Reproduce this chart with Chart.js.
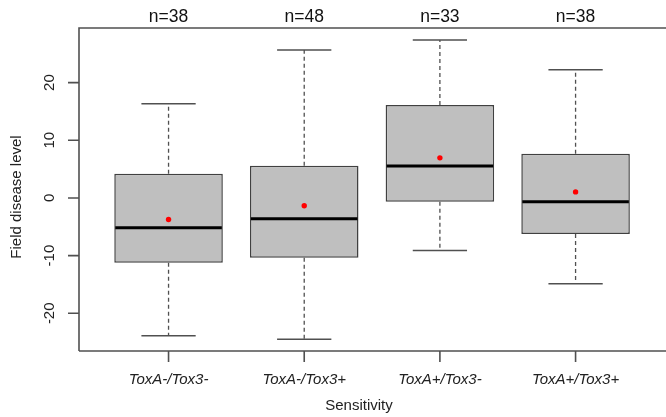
<!DOCTYPE html>
<html>
<head>
<meta charset="utf-8">
<script src="https://cdn.jsdelivr.net/npm/chart.js@4"></script>
<style>
html,body{margin:0;padding:0;background:#fff;}
#wrap{width:666px;height:417px;position:relative;}
</style>
</head>
<body>
<div id="wrap"><canvas id="c"></canvas></div>
<script>
// ---- data ----
const categories = ["ToxA-/Tox3-", "ToxA-/Tox3+", "ToxA+/Tox3-", "ToxA+/Tox3+"];
const sampleSizes = [38, 48, 33, 38];
const whiskerLow = [-23.9, -24.5, -9.1, -14.9];
const q1 = [-11.25, -10.35, -0.65, -6.25];
const medians = [-5.15, -3.6, 5.55, -0.65];
const q3 = [4.2, 5.6, 16.1, 7.65];
const whiskerHigh = [16.35, 25.65, 27.4, 22.25];
const means = [-3.75, -1.35, 6.95, 1.05];
const yTicks = [-20, -10, 0, 10, 20];

const positions = categories.map((c, i) => i + 1);
const boxData = positions.map((x, i) => ({x: x, y: [q1[i], q3[i]]}));
const meanData = positions.map((x, i) => ({x: x, y: means[i]}));

const AXIS = '#505050';
const TEXT = '#222222';

const boxPlugin = {
  id: 'boxExtras',
  afterDatasetDraw(chart, args) {
    if (args.index !== 0) return;
    const ctx = chart.ctx, xs = chart.scales.x, ys = chart.scales.y;
    const unit = xs.getPixelForValue(1) - xs.getPixelForValue(0);
    ctx.save();
    positions.forEach((p, i) => {
      const cx = xs.getPixelForValue(p);
      // dashed whiskers
      ctx.strokeStyle = AXIS;
      ctx.lineWidth = 1.3;
      ctx.setLineDash([4, 3]);
      ctx.beginPath();
      ctx.moveTo(cx, ys.getPixelForValue(q3[i]));
      ctx.lineTo(cx, ys.getPixelForValue(whiskerHigh[i]));
      ctx.moveTo(cx, ys.getPixelForValue(q1[i]));
      ctx.lineTo(cx, ys.getPixelForValue(whiskerLow[i]));
      ctx.stroke();
      // caps
      ctx.setLineDash([]);
      ctx.lineWidth = 1.5;
      const hw = unit * 0.2;
      ctx.beginPath();
      [whiskerHigh[i], whiskerLow[i]].forEach(v => {
        const y = ys.getPixelForValue(v);
        ctx.moveTo(cx - hw, y);
        ctx.lineTo(cx + hw, y);
      });
      ctx.stroke();
      // median
      const bw = unit * 0.4;
      ctx.strokeStyle = '#000000';
      ctx.lineWidth = 3;
      ctx.beginPath();
      const my = ys.getPixelForValue(medians[i]);
      ctx.moveTo(cx - bw + 1, my);
      ctx.lineTo(cx + bw - 1, my);
      ctx.stroke();
    });
    ctx.restore();
  },
  afterDraw(chart) {
    const ctx = chart.ctx, xs = chart.scales.x, ys = chart.scales.y;
    const a = chart.chartArea;
    ctx.save();
    // frame
    ctx.strokeStyle = AXIS;
    ctx.lineWidth = 1.6;
    ctx.beginPath();
    ctx.moveTo(a.left, a.bottom);
    ctx.lineTo(a.left, a.top);
    ctx.lineTo(a.right + 5, a.top);
    ctx.moveTo(a.left, a.bottom);
    ctx.lineTo(a.right + 5, a.bottom);
    // y ticks
    yTicks.forEach(t => {
      const y = ys.getPixelForValue(t);
      ctx.moveTo(a.left - 11, y);
      ctx.lineTo(a.left, y);
    });
    // x ticks
    positions.forEach(p => {
      const x = xs.getPixelForValue(p);
      ctx.moveTo(x, a.bottom);
      ctx.lineTo(x, a.bottom + 11);
    });
    ctx.stroke();

    ctx.fillStyle = TEXT;
    ctx.textAlign = 'center';
    ctx.textBaseline = 'middle';
    // y tick labels rotated
    ctx.font = '15px "Liberation Sans", Arial, sans-serif';
    yTicks.forEach(t => {
      const y = ys.getPixelForValue(t);
      ctx.save();
      ctx.translate(a.left - 29, y);
      ctx.rotate(-Math.PI / 2);
      ctx.fillText(String(t), 0, 0);
      ctx.restore();
    });
    // y title
    ctx.save();
    ctx.translate(17, 197);
    ctx.rotate(-Math.PI / 2);
    ctx.fillText('Field disease level', 0, 0);
    ctx.restore();
    // x tick labels italic
    ctx.font = 'italic 15px "Liberation Sans", Arial, sans-serif';
    positions.forEach((p, i) => {
      ctx.fillText(categories[i], xs.getPixelForValue(p), 380);
    });
    // x title
    ctx.font = '15px "Liberation Sans", Arial, sans-serif';
    ctx.fillText('Sensitivity', 359, 406);
    // n labels
    ctx.fillStyle = '#111111';
    ctx.font = '17.5px "Liberation Sans", Arial, sans-serif';
    positions.forEach((p, i) => {
      ctx.fillText('n=' + sampleSizes[i], xs.getPixelForValue(p), 17);
    });
    ctx.restore();
  }
};

new Chart(document.getElementById('c'), {
  type: 'bar',
  data: {
    datasets: [
      {
        type: 'bar',
        order: 1,
        data: boxData,
        backgroundColor: '#bfbfbf',
        borderColor: '#404040',
        borderWidth: 1.5,
        borderSkipped: false,
        categoryPercentage: 0.8,
        barPercentage: 1.0
      },
      {
        type: 'scatter',
        order: 0,
        data: meanData,
        pointRadius: 2.7,
        pointBackgroundColor: '#ff0000',
        pointBorderWidth: 0,
        borderWidth: 0
      }
    ]
  },
  options: {
    responsive: true,
    maintainAspectRatio: false,
    animation: false,
    layout: {padding: {left: 79, top: 28, right: 0, bottom: 66}},
    plugins: {legend: {display: false}, tooltip: {enabled: false}},
    scales: {
      x: {
        type: 'linear', min: 0.34, max: 4.637, display: false, offset: false,
        afterBuildTicks: (scale) => { scale.ticks = positions.map(v => ({value: v})); }
      },
      y: {type: 'linear', min: -26.54, max: 29.47, display: false}
    }
  },
  plugins: [boxPlugin]
});
</script>
</body>
</html>
